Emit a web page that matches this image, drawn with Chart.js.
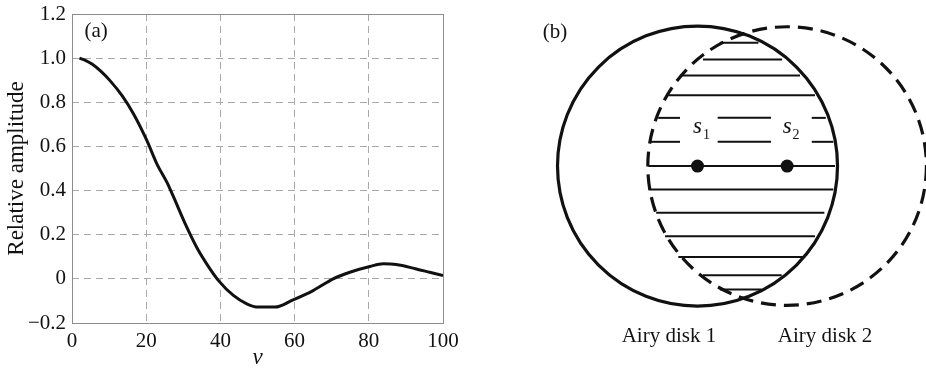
<!DOCTYPE html>
<html>
<head>
<meta charset="utf-8">
<script src="https://cdn.jsdelivr.net/npm/chart.js@4.4.1/dist/chart.umd.min.js"></script>
<style>
html, body { margin: 0; padding: 0; background: #fff; }
#wrap { position: relative; width: 926px; height: 377px; }
canvas { position: absolute; top: 0; }
#ampChart { left: 0; }
#diskChart { left: 463px; }
</style>
</head>
<body>
<div id="wrap">
  <canvas id="ampChart" width="463" height="377"></canvas>
  <canvas id="diskChart" width="463" height="377"></canvas>
</div>
<script>
// panel (a): relative amplitude vs v
const vValues = [2, 3.6, 5.4, 7.6, 10.3, 13.5, 16.6, 20.2, 22.9, 25.6, 27.4, 30.5, 33.6, 36.3, 39.5,
  43.5, 47.1, 50.2, 54.7, 59.6, 65, 70.4, 74.9, 80.3, 83.9, 87.4, 92.8, 96.4, 100];
const amplitude = [1.0, 0.99, 0.973, 0.943, 0.897, 0.83, 0.747, 0.626, 0.52, 0.437, 0.37, 0.25, 0.143, 0.068, -0.008,
  -0.075, -0.113, -0.128, -0.128, -0.095, -0.053, 0.0, 0.03, 0.056, 0.068, 0.065, 0.045, 0.03, 0.015];
const xTicks = [0, 20, 40, 60, 80, 100];
const yTicks = [-0.2, 0, 0.2, 0.4, 0.6, 0.8, 1.0, 1.2];

// panel (b): two Airy disks, units of one disk radius, s1 at origin
const diskCenters = [[0, 0], [0.64, 0]];
const diskRadii = [1.0, 0.995];
const diskDashed = [false, true];
const sourceLabels = ['1', '2'];
// hatch segments in the overlap: [y, xStart, xEnd]
const hatchSegments = [
  [0.88, 0.16, 0.435],
  [0.761, 0.039, 0.604],
  [0.646, -0.125, 0.732],
  [0.506, -0.209, 0.839],
  [0.344, -0.281, -0.125], [0.344, 0.144, 0.525], [0.344, 0.816, 0.916],
  [0.173, -0.346, -0.125], [0.173, 0.144, 0.525], [0.173, 0.816, 0.97],
  [0.0, -0.351, 0.982],
  [-0.168, -0.351, 0.97],
  [-0.334, -0.295, 0.906],
  [-0.501, -0.232, 0.839],
  [-0.649, -0.137, 0.757],
  [-0.78, 0.039, 0.601],
  [-0.882, 0.16, 0.459]
];
const diskNames = ['Airy disk 1', 'Airy disk 2'];
const diskNamePos = [[-0.204, -1.221], [0.911, -1.221]];

const SERIF = '"Liberation Serif", "Times New Roman", serif';

const framePlugin = {
  id: 'frame',
  afterDraw(chart) {
    const { ctx, chartArea: a, scales } = chart;
    ctx.save();
    ctx.strokeStyle = '#8c8c8c';
    ctx.lineWidth = 1;
    ctx.strokeRect(a.left + 0.5, a.top + 0.5, a.right - a.left, a.bottom - a.top);
    ctx.fillStyle = '#111';
    ctx.font = '21px ' + SERIF;
    ctx.textAlign = 'center';
    ctx.textBaseline = 'middle';
    ctx.fillText('(a)', scales.x.getPixelForValue(6.5), scales.y.getPixelForValue(1.12));
    ctx.restore();
  }
};

new Chart(document.getElementById('ampChart'), {
  type: 'line',
  data: {
    datasets: [{
      data: vValues.map((v, i) => ({ x: v, y: amplitude[i] })),
      borderColor: '#111',
      borderWidth: 3,
      pointRadius: 0,
      cubicInterpolationMode: 'monotone',
      fill: false
    }]
  },
  options: {
    responsive: false,
    animation: false,
    layout: { autoPadding: false, padding: { top: 14, right: 20, left: 0, bottom: 0 } },
    plugins: { legend: { display: false }, tooltip: { enabled: false } },
    scales: {
      x: {
        type: 'linear',
        min: 0, max: 100,
        afterFit(s) { s.height = 54; s.paddingLeft = 0; s.paddingRight = 0; },
        afterBuildTicks(s) { s.ticks = xTicks.map(v => ({ value: v })); },
        grid: { color: '#a8a8a8', lineWidth: 1, drawTicks: false },
        border: { display: false, dash: [7, 5] },
        ticks: { color: '#111', padding: 6, font: { family: SERIF, size: 21 } },
        title: { display: true, text: 'v', color: '#111', padding: { bottom: 5 },
          font: { family: SERIF, size: 23, style: 'italic' } }
      },
      y: {
        min: -0.2, max: 1.2,
        afterFit(s) { s.width = 72; s.paddingTop = 0; s.paddingBottom = 0; },
        afterBuildTicks(s) { s.ticks = yTicks.map(v => ({ value: v })); },
        grid: { color: '#a8a8a8', lineWidth: 1, drawTicks: false },
        border: { display: false, dash: [7, 5] },
        ticks: {
          color: '#111', padding: 6, font: { family: SERIF, size: 21 },
          callback: v => {
            const r = Math.round(v * 10) / 10;
            if (r === 0) return '0';
            return (r < 0 ? '\u2212' : '') + Math.abs(r).toFixed(1);
          }
        },
        title: { display: true, text: 'Relative amplitude', color: '#111', padding: { top: 3 },
          font: { family: SERIF, size: 23 } }
      }
    }
  },
  plugins: [framePlugin]
});

const diskPlugin = {
  id: 'disks',
  afterDatasetsDraw(chart) {
    const { ctx, scales: { x, y } } = chart;
    const unit = x.getPixelForValue(1) - x.getPixelForValue(0);
    ctx.save();
    diskCenters.forEach((c, i) => {
      ctx.beginPath();
      ctx.arc(x.getPixelForValue(c[0]), y.getPixelForValue(c[1]), diskRadii[i] * unit, 0, Math.PI * 2);
      ctx.lineWidth = 3.2;
      ctx.strokeStyle = '#111';
      ctx.setLineDash(diskDashed[i] ? [15, 8] : []);
      ctx.stroke();
    });
    ctx.setLineDash([]);
    ctx.fillStyle = '#111';
    ctx.textBaseline = 'middle';
    ctx.textAlign = 'center';
    ctx.font = '21px ' + SERIF;
    ctx.fillText('(b)', x.getPixelForValue(-1.018), y.getPixelForValue(0.957));
    diskNames.forEach((n, i) => {
      ctx.fillText(n, x.getPixelForValue(diskNamePos[i][0]), y.getPixelForValue(diskNamePos[i][1]));
    });
    diskCenters.forEach((c, i) => {
      const px = x.getPixelForValue(c[0]);
      const py = y.getPixelForValue(c[1] + 0.28);
      ctx.font = 'italic 23px ' + SERIF;
      ctx.textAlign = 'center';
      ctx.fillText('s', px, py);
      ctx.font = '14px ' + SERIF;
      ctx.fillText(sourceLabels[i], px + 9, py + 8);
    });
    ctx.restore();
  }
};

const hatchSets = hatchSegments.map(s => ({
  data: [{ x: s[1], y: s[0] }, { x: s[2], y: s[0] }],
  showLine: true,
  borderColor: '#111',
  borderWidth: 2,
  pointRadius: 0
}));

new Chart(document.getElementById('diskChart'), {
  type: 'scatter',
  data: {
    datasets: [
      ...hatchSets,
      {
        data: diskCenters.map(c => ({ x: c[0], y: c[1] })),
        pointRadius: 6.5,
        backgroundColor: '#111',
        borderColor: '#111',
        borderWidth: 0
      }
    ]
  },
  options: {
    responsive: false,
    animation: false,
    layout: { autoPadding: false, padding: 0 },
    plugins: { legend: { display: false }, tooltip: { enabled: false } },
    scales: {
      x: { type: 'linear', min: -1.675, max: 1.632, display: false },
      y: { type: 'linear', min: -1.507, max: 1.186, display: false }
    }
  },
  plugins: [diskPlugin]
});
</script>
</body>
</html>
